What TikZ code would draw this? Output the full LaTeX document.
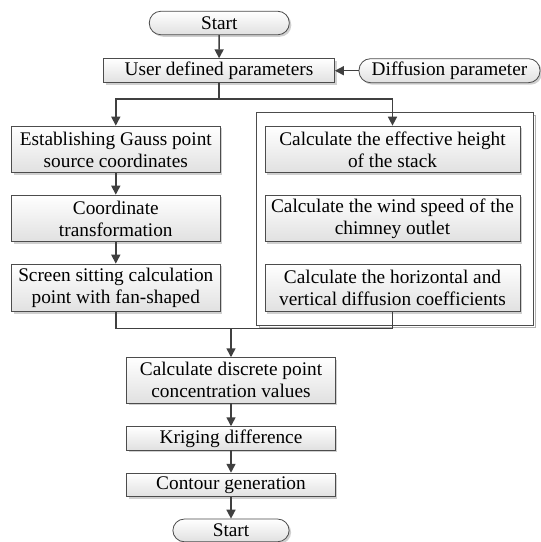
\documentclass[tikz,border=0pt]{standalone}
\usepackage{fontspec}
\setmainfont{Liberation Serif}
\usetikzlibrary{arrows.meta,shadows}

\tikzset{
  link/.style={draw=black!75, line width=1.5pt},
  flow/.style={link, -{Triangle[length=9pt,width=9pt]}},
  stepbox/.style={draw=black!70, line width=0.8pt, top color=white, bottom color=black!12,
    drop shadow={shadow xshift=2pt, shadow yshift=-2pt, fill=black!30, opacity=0.6},
    align=center, inner sep=0pt, font=\fontsize{19.3}{22}\selectfont},
  termbox/.style={stepbox, rounded corners=11.5pt},
}

\begin{document}
\begin{tikzpicture}[x=1pt,y=-1pt]
\useasboundingbox[fill=white] (0,0) rectangle (541,542);

% frame around the three parallel calculation steps
\draw[black!30, line width=0.8pt] (259.5,115) rectangle (535.5,327.5);
\draw[black!70, fill=white, line width=0.8pt] (256.7,112) rectangle (533,325);

% top of the chart
\node[termbox, minimum width=140pt, minimum height=23.5pt] (start) at (219.3,23) {Start};
\node[stepbox, minimum width=231pt, minimum height=24pt] (user) at (219,70.7) {User defined parameters};
\node[termbox, minimum width=181pt, minimum height=24pt] (diff) at (449.5,70.7) {Diffusion parameter};

% left column
\node[stepbox, minimum width=208.3pt, minimum height=46.7pt] (gauss) at (115.8,149.4) {Establishing Gauss point\\source coordinates};
\node[stepbox, minimum width=208.3pt, minimum height=46.7pt] (coord) at (115.8,218.4) {Coordinate\\transformation};
\node[stepbox, minimum width=208.3pt, minimum height=47.7pt] (screen) at (115.8,287.9) {Screen sitting calculation\\point with fan-shaped};

% right column
\node[stepbox, minimum width=255pt, minimum height=46.7pt] (height) at (392.5,149.4) {Calculate the effective height\\of the stack};
\node[stepbox, minimum width=255pt, minimum height=46.7pt] (wind) at (392.5,218.4) {Calculate the wind speed of the\\chimney outlet};
\node[stepbox, minimum width=255pt, minimum height=47.7pt] (coef) at (392.5,287.9) {Calculate the horizontal and\\vertical diffusion coefficients};

% lower column
\node[stepbox, minimum width=208.3pt, minimum height=45.3pt] (conc) at (231,380.3) {Calculate discrete point\\concentration values};
\node[stepbox, minimum width=208.3pt, minimum height=23.3pt] (krig) at (231,438.3) {Kriging difference};
\node[stepbox, minimum width=208.3pt, minimum height=23.7pt] (cont) at (231,485) {Contour generation};
\node[termbox, minimum width=116.3pt, minimum height=22.7pt] (stop) at (231,530.4) {Start};

% branch points
\coordinate (split) at (219,99);
\coordinate (splitL) at (115.8,99);
\coordinate (splitR) at (392.5,99);
\coordinate (joinL) at (115.8,328.5);
\coordinate (joinM) at (231,328.5);
\coordinate (joinR) at (392.5,328.5);

% connectors
\draw[flow] (start) -- (user);
\draw[flow] (diff) -- (user);
\draw[link] (user) -- (split);
\draw[flow] (split) -- (splitL) -- (gauss);
\draw[flow] (split) -- (splitR) -- (height);
\draw[flow] (gauss) -- (coord);
\draw[flow] (coord) -- (screen);
\draw[link] (screen) -- (joinL) -- (joinR) -- (coef);
\draw[flow] (joinM) -- (conc);
\draw[flow] (conc) -- (krig);
\draw[flow] (krig) -- (cont);
\draw[flow] (cont) -- (stop);
\end{tikzpicture}
\end{document}
